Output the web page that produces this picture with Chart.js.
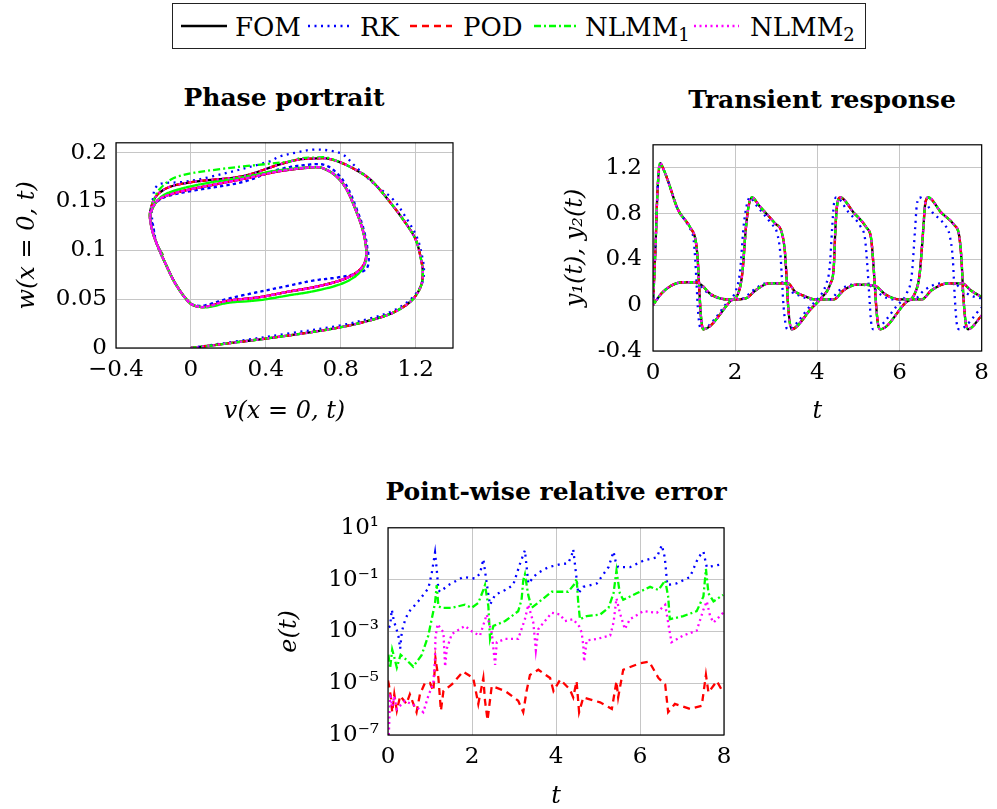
<!DOCTYPE html>
<html>
<head>
<meta charset="utf-8">
<script src="https://cdn.jsdelivr.net/npm/chart.js@4.4.0/dist/chart.umd.min.js"></script>
<style>
  body { margin: 0; background: #fff; }
  #fig { position: relative; width: 997px; height: 809px; font-family: "DejaVu Serif", serif; color: #000; overflow: hidden; }
  canvas { position: absolute; }
  .ttl { position: absolute; font-weight: bold; font-size: 25px; line-height: 1; transform: translate(-50%, -50%); white-space: nowrap; }
  #legendBox { position: absolute; left: 172px; top: 3px; width: 694px; height: 46px; border: 1.3px solid #222; box-sizing: border-box; }
  .ls { position: absolute; top: 23px; }
  .lt { position: absolute; top: 27px; transform: translateY(-50%); font-size: 26px; line-height: 1; white-space: nowrap; }
  .lt sub { font-size: 18px; vertical-align: -5px; line-height: 0; }
</style>
</head>
<body>
<div id="fig">
  <div id="legendBox"></div>
  <svg class="ls" style="left:181px" width="46" height="6"><line x1="0" y1="3" x2="46" y2="3" stroke="#000" stroke-width="2.4"/></svg>
  <span class="lt" style="left:235px">FOM</span>
  <svg class="ls" style="left:307px" width="44" height="6"><line x1="1" y1="3" x2="44" y2="3" stroke="#0000ff" stroke-width="2.4" stroke-dasharray="2 4.5"/></svg>
  <span class="lt" style="left:360px">RK</span>
  <svg class="ls" style="left:410px" width="42" height="6"><line x1="0" y1="3" x2="42" y2="3" stroke="#ff0000" stroke-width="2.4" stroke-dasharray="7 5"/></svg>
  <span class="lt" style="left:463px">POD</span>
  <svg class="ls" style="left:534px" width="44" height="6"><line x1="0" y1="3" x2="44" y2="3" stroke="#00ff00" stroke-width="2.4" stroke-dasharray="7 3 2 3"/></svg>
  <span class="lt" style="left:585px">NLMM<sub>1</sub></span>
  <svg class="ls" style="left:693px" width="46" height="6"><line x1="1" y1="3" x2="46" y2="3" stroke="#ff00ff" stroke-width="2.4" stroke-dasharray="2 3.5"/></svg>
  <span class="lt" style="left:750px">NLMM<sub>2</sub></span>

  <div class="ttl" style="left:284px; top:97px">Phase portrait</div>
  <div class="ttl" style="left:822px; top:99px">Transient response</div>
  <div class="ttl" style="left:556px; top:491px">Point-wise relative error</div>

  <canvas id="phase" width="480" height="320" style="left:0px; top:120px"></canvas>
  <canvas id="trans" width="457" height="320" style="left:540px; top:120px"></canvas>
  <canvas id="err" width="480" height="304" style="left:270px; top:505px"></canvas>
</div>

<script>
// ---- phase portrait: v(x=0,t) and w(x=0,t), outer loop then repeated inner loop
const fomOuterV = [0, 0.25, 0.528, 0.795, 0.972, 1.078, 1.15, 1.195, 1.23, 1.239,
  1.23, 1.203, 1.15, 1.061, 0.955, 0.865, 0.785, 0.723, 0.67, 0.581,
  0.475, 0.279, 0.012, -0.112, -0.174, -0.201, -0.219];
const fomOuterW = [0, 0.006, 0.013, 0.021, 0.029, 0.036, 0.044, 0.052, 0.064, 0.077,
  0.09, 0.11, 0.127, 0.15, 0.173, 0.184, 0.191, 0.194, 0.194, 0.193,
  0.188, 0.176, 0.17, 0.165, 0.158, 0.15, 0.137];
const fomInnerV = [-0.21, -0.183, -0.13, -0.077, -0.005, 0.048, 0.101, 0.19, 0.368, 0.528,
  0.652, 0.795, 0.883, 0.928, 0.937, 0.919, 0.883, 0.83, 0.776, 0.705,
  0.652, 0.475, 0.279, 0.012, -0.13, -0.183, -0.215];
const fomInnerW = [0.123, 0.107, 0.084, 0.064, 0.046, 0.042, 0.043, 0.048, 0.052, 0.058,
  0.062, 0.069, 0.077, 0.087, 0.1, 0.12, 0.14, 0.163, 0.176, 0.184,
  0.185, 0.181, 0.173, 0.163, 0.156, 0.15, 0.137];
const fomEndV = [-0.21, -0.183, -0.15];
const fomEndW = [0.123, 0.107, 0.095];

const rkOuterV = [0, 0.25, 0.528, 0.795, 0.972, 1.078, 1.15, 1.195, 1.235, 1.245,
  1.237, 1.21, 1.16, 1.08, 0.99, 0.883, 0.812, 0.741, 0.652, 0.563,
  0.475, 0.421, 0.101, -0.041, -0.165, -0.192, -0.201, -0.21];
const rkOuterW = [0, 0.007, 0.015, 0.023, 0.031, 0.038, 0.046, 0.054, 0.066, 0.079,
  0.092, 0.112, 0.13, 0.152, 0.166, 0.185, 0.198, 0.202, 0.203, 0.2,
  0.196, 0.191, 0.175, 0.17, 0.168, 0.163, 0.155, 0.14];
const rkInnerV = [-0.2, -0.183, -0.13, -0.077, -0.005, 0.048, 0.101, 0.19, 0.279, 0.528,
  0.652, 0.776, 0.883, 0.937, 0.95, 0.945, 0.925, 0.89, 0.84, 0.785,
  0.72, 0.652, 0.475, 0.279, 0.012, -0.13, -0.19, -0.215];
const rkInnerW = [0.123, 0.107, 0.084, 0.064, 0.046, 0.043, 0.045, 0.05, 0.054, 0.064,
  0.069, 0.072, 0.076, 0.081, 0.09, 0.1, 0.12, 0.14, 0.163, 0.178,
  0.187, 0.188, 0.183, 0.17, 0.161, 0.155, 0.148, 0.137];
const rkEndV = [-0.2, -0.183, -0.13];
const rkEndW = [0.123, 0.107, 0.084];

const nlmm1OuterV = [0, 0.25, 0.528, 0.795, 0.972, 1.078, 1.15, 1.195, 1.23, 1.239,
  1.23, 1.203, 1.15, 1.061, 0.955, 0.865, 0.785, 0.723, 0.67, 0.581,
  0.528, 0.155, -0.077, -0.165, -0.201, -0.219];
const nlmm1OuterW = [0, 0.006, 0.013, 0.021, 0.029, 0.036, 0.044, 0.052, 0.064, 0.077,
  0.09, 0.11, 0.127, 0.15, 0.173, 0.184, 0.191, 0.195, 0.195, 0.194,
  0.191, 0.183, 0.175, 0.163, 0.15, 0.137];
const nlmm1InnerV = [-0.21, -0.183, -0.13, -0.077, -0.005, 0.048, 0.101, 0.19, 0.368, 0.528,
  0.652, 0.795, 0.883, 0.928, 0.937, 0.919, 0.883, 0.83, 0.776, 0.705,
  0.652, 0.475, 0.279, 0.012, -0.13, -0.183, -0.215];
const nlmm1InnerW = [0.123, 0.107, 0.084, 0.064, 0.046, 0.042, 0.042, 0.046, 0.049, 0.054,
  0.058, 0.065, 0.074, 0.085, 0.099, 0.12, 0.14, 0.163, 0.176, 0.184,
  0.185, 0.182, 0.175, 0.166, 0.158, 0.15, 0.137];

// ---- transient response y1(t), y2(t)
const fomY1T = [0, 0.06, 0.11, 0.17, 0.24, 0.36, 0.6, 0.92, 1.04, 1.09, 1.12, 1.16, 1.22,
  1.87, 2.1, 2.18, 2.26, 2.33, 2.41, 2.58, 2.98, 3.13, 3.21, 3.25, 3.29, 3.37,
  3.85, 4.09, 4.32, 4.4, 4.44, 4.48, 4.56, 4.88, 5.19, 5.31, 5.37, 5.42, 5.47, 5.53,
  6.14, 6.37, 6.49, 6.58, 6.62, 6.7, 7.01, 7.33, 7.45, 7.51, 7.55, 7.61, 7.67, 8.0];
const fomY1 = [0, 0.5, 1.0, 1.24, 1.2, 1.09, 0.84, 0.67, 0.56, 0.39, 0.19, -0.07, -0.21,
  0.03, 0.13, 0.3, 0.67, 0.87, 0.94, 0.87, 0.71, 0.64, 0.47, 0.25, -0.01, -0.21,
  -0.03, 0.06, 0.19, 0.33, 0.67, 0.87, 0.94, 0.81, 0.68, 0.58, 0.33, 0.05, -0.15, -0.21,
  0.02, 0.1, 0.27, 0.67, 0.87, 0.94, 0.81, 0.7, 0.61, 0.39, 0.1, -0.15, -0.21, -0.09];
const fomY2T = [0, 0.2, 0.44, 0.72, 1.04, 1.2, 1.39, 1.63, 1.95, 2.26, 2.5, 2.82, 3.13, 3.29,
  3.45, 3.69, 3.93, 4.4, 4.64, 4.96, 5.39, 5.67, 5.99, 6.54, 6.78, 7.17, 7.53, 7.73, 7.96, 8.0];
const fomY2 = [0, 0.1, 0.17, 0.2, 0.2, 0.17, 0.1, 0.06, 0.05, 0.06, 0.13, 0.19, 0.19, 0.19,
  0.12, 0.08, 0.05, 0.05, 0.13, 0.18, 0.17, 0.09, 0.05, 0.05, 0.13, 0.19, 0.19, 0.13, 0.08, 0.075];

const rkY1T = [0, 0.06, 0.11, 0.17, 0.24, 0.36, 0.6, 0.88, 0.99, 1.03, 1.06, 1.1, 1.17,
  1.82, 2.02, 2.12, 2.2, 2.28, 2.36, 2.52, 2.88, 3.02, 3.1, 3.14, 3.18, 3.27,
  3.85, 4.0, 4.22, 4.3, 4.36, 4.4, 4.46, 4.76, 5.06, 5.16, 5.22, 5.27, 5.31, 5.37,
  5.95, 6.17, 6.3, 6.38, 6.42, 6.5, 6.8, 7.1, 7.22, 7.3, 7.34, 7.39, 7.45, 8.0];
const rkY1 = [0, 0.5, 1.0, 1.24, 1.2, 1.09, 0.84, 0.68, 0.57, 0.39, 0.19, -0.07, -0.21,
  0.03, 0.13, 0.3, 0.67, 0.87, 0.94, 0.87, 0.71, 0.63, 0.45, 0.22, -0.02, -0.21,
  0.0, 0.05, 0.19, 0.33, 0.67, 0.87, 0.94, 0.81, 0.68, 0.58, 0.33, 0.05, -0.15, -0.21,
  0.0, 0.1, 0.27, 0.67, 0.87, 0.94, 0.81, 0.7, 0.61, 0.39, 0.1, -0.15, -0.21, -0.02];
const rkY2T = [0, 0.2, 0.44, 0.72, 1.0, 1.15, 1.35, 1.6, 1.9, 2.2, 2.44, 2.76, 3.05, 3.2,
  3.36, 3.6, 3.85, 4.3, 4.54, 4.86, 5.27, 5.55, 5.85, 6.35, 6.6, 7.0, 7.33, 7.53, 7.76, 8.0];
const rkY2 = [0, 0.1, 0.17, 0.2, 0.2, 0.17, 0.1, 0.06, 0.05, 0.06, 0.13, 0.19, 0.19, 0.19,
  0.12, 0.08, 0.05, 0.05, 0.13, 0.18, 0.17, 0.09, 0.05, 0.05, 0.13, 0.19, 0.19, 0.13, 0.08, 0.06];

// ---- point-wise relative error, stored as log10(e)
const rkErrT = [0.02, 0.05, 0.09, 0.14, 0.2, 0.25, 0.29, 0.33, 0.4, 0.48, 0.72, 0.96, 1.04, 1.12, 1.16, 1.2,
  1.24, 1.44, 1.79, 2.07, 2.19, 2.27, 2.33, 2.39, 2.43, 2.55, 2.79, 2.98, 3.14, 3.26, 3.3, 3.34,
  3.54, 3.82, 4.13, 4.29, 4.37, 4.41, 4.49, 4.53, 4.65, 4.97, 5.25, 5.37, 5.42, 5.48, 5.76, 6.08,
  6.4, 6.52, 6.59, 6.65, 6.87, 7.19, 7.39, 7.51, 7.59, 7.98];
const rkErrLog = [-2.85, -2.79, -2.16, -2.6, -2.9, -3.2, -3.67, -3.0, -2.6, -2.28, -1.84, -1.34, -0.77, 0.04, -0.6, -1.4,
  -1.47, -1.21, -0.9, -0.96, -0.77, -0.21, -0.9, -1.59, -1.97, -1.59, -1.4, -1.21, -0.4, 0.13, -0.5, -1.15,
  -0.77, -0.52, -0.4, -0.37, -0.08, 0.17, -0.96, -1.53, -1.28, -1.15, -0.52, 0.08, -0.3, -0.52, -0.52, -0.27,
  -0.14, 0.33, -0.14, -1.21, -1.15, -0.9, -0.14, 0.08, -0.52, -0.4];

const podErrT = [0.0, 0.02, 0.07, 0.1, 0.15, 0.21, 0.29, 0.44, 0.52, 0.68, 0.76, 0.88, 1.0, 1.08, 1.13, 1.2,
  1.26, 1.32, 1.52, 1.79, 2.03, 2.15, 2.27, 2.31, 2.37, 2.47, 2.79, 3.1, 3.22, 3.3, 3.38, 3.58,
  3.86, 3.94, 4.1, 4.33, 4.41, 4.49, 4.55, 4.65, 5.05, 5.33, 5.44, 5.48, 5.6, 6.0, 6.22, 6.44,
  6.6, 6.67, 6.83, 7.19, 7.47, 7.57, 7.63, 7.83, 7.98];
const podErrLog = [-4.9, -5.05, -5.55, -6.12, -5.43, -6.06, -5.49, -5.8, -5.43, -6.12, -5.43, -4.99, -4.99, -5.3, -4.04, -4.8,
  -6.06, -5.3, -5.05, -4.55, -4.8, -5.8, -4.8, -5.68, -6.43, -5.11, -5.3, -5.68, -6.12, -5.3, -4.68, -4.48,
  -4.8, -5.3, -4.86, -5.24, -5.55, -4.92, -6.12, -5.55, -5.74, -5.99, -4.92, -5.55, -4.48, -4.23, -4.17, -4.8,
  -5.05, -6.12, -5.8, -5.99, -5.87, -4.68, -5.36, -4.92, -5.36];

const nlmm1ErrT = [0.01, 0.05, 0.1, 0.15, 0.21, 0.3, 0.4, 0.6, 0.8, 0.96, 1.12, 1.16, 1.2, 1.28, 1.52, 1.83,
  1.99, 2.15, 2.27, 2.31, 2.39, 2.43, 2.51, 2.79, 3.1, 3.18, 3.22, 3.26, 3.34, 3.42, 3.66, 3.9,
  4.1, 4.29, 4.45, 4.49, 4.53, 4.57, 4.73, 5.05, 5.25, 5.37, 5.44, 5.52, 5.6, 5.92, 6.24, 6.44,
  6.6, 6.67, 6.71, 7.03, 7.35, 7.51, 7.57, 7.63, 7.75, 7.98];
const nlmm1ErrLog = [-3.9, -4.42, -3.7, -4.0, -4.4, -3.9, -4.04, -4.36, -3.92, -3.16, -1.9, -1.21, -2.03, -2.09, -2.09, -1.97,
  -2.09, -1.9, -1.4, -1.21, -2.03, -3.29, -2.79, -2.6, -2.22, -1.78, -1.03, -0.8, -1.6, -2.09, -1.78, -1.47,
  -1.47, -1.47, -1.15, -0.96, -1.9, -2.53, -2.41, -2.35, -2.09, -1.53, -0.65, -1.53, -1.78, -1.53, -1.28, -1.4,
  -1.03, -1.65, -2.53, -2.41, -2.22, -1.65, -0.59, -1.53, -1.84, -1.59];

const nlmm2ErrT = [0.02, 0.05, 0.1, 0.15, 0.21, 0.4, 0.64, 0.84, 0.96, 1.08, 1.12, 1.13, 1.18, 1.32, 1.36, 1.4,
  1.52, 1.83, 2.03, 2.19, 2.35, 2.47, 2.55, 2.59, 2.79, 3.1, 3.26, 3.34, 3.46, 3.52, 3.58, 3.9,
  4.1, 4.21, 4.41, 4.55, 4.61, 4.65, 4.67, 4.73, 4.97, 5.29, 5.37, 5.44, 5.52, 5.64, 5.76, 6.08,
  6.4, 6.6, 6.67, 6.75, 7.03, 7.35, 7.51, 7.59, 7.67, 7.75, 7.98];
const nlmm2ErrLog = [-7.0, -5.4, -5.9, -5.5, -6.0, -5.68, -5.87, -6.12, -5.49, -4.99, -4.04, -3.23, -2.72, -3.04, -4.36, -3.67,
  -3.1, -2.79, -3.04, -3.16, -2.35, -3.04, -4.29, -3.42, -3.29, -3.29, -2.53, -1.97, -2.66, -3.73, -2.91, -2.28,
  -2.35, -2.6, -2.53, -2.8, -3.04, -3.54, -4.17, -3.35, -3.29, -3.16, -2.66, -1.72, -2.28, -2.91, -2.53, -2.22,
  -2.28, -1.97, -2.66, -3.42, -3.16, -2.97, -2.16, -1.84, -2.41, -2.66, -2.28];

const errTicks = [1e-7, 1e-5, 1e-3, 1e-1, 1e1];

// ---- helpers
const pairs = (xs, ys) => xs.map((x, i) => ({ x: x, y: ys[i] }));
const logPairs = (xs, ls) => xs.map((x, i) => ({ x: x, y: Math.pow(10, ls[i]) }));

Chart.defaults.font.family = '"DejaVu Serif", serif';
Chart.defaults.color = '#000';

const styles = {
  FOM:   { borderColor: '#000000', borderDash: [],           order: 5 },
  RK:    { borderColor: '#0000ff', borderDash: [2, 4.5],     order: 4 },
  POD:   { borderColor: '#ff0000', borderDash: [7, 5],       order: 3 },
  NLMM1: { borderColor: '#00ff00', borderDash: [7, 3, 2, 3], order: 2 },
  NLMM2: { borderColor: '#ff00ff', borderDash: [2, 3.5],     order: 1 }
};

function ds(key, data, extra) {
  return Object.assign({ label: key, data: data, showLine: true, pointRadius: 0, borderWidth: 2.3, fill: false },
    styles[key], extra || {});
}

const frame = {
  id: 'frame',
  afterDraw(chart) {
    const { ctx, chartArea: a } = chart;
    ctx.save();
    ctx.strokeStyle = '#000';
    ctx.lineWidth = 1.2;
    ctx.strokeRect(a.left, a.top, a.right - a.left, a.bottom - a.top);
    ctx.restore();
  }
};

const gridStyle = { color: '#c6c6c6', lineWidth: 1, drawTicks: false };
const tickFont = { size: 23 };
const titleFont = { size: 24, style: 'italic', lineHeight: 1 };

function xAxis(min, max, step, title, height, padBottom, cb) {
  return {
    type: 'linear', min: min, max: max,
    grid: gridStyle, border: { display: false },
    ticks: { stepSize: step, includeBounds: false, autoSkip: false, maxRotation: 0, padding: 8, font: tickFont,
      callback: cb || (v => String(Number(v.toFixed(2)))) },
    title: { display: true, text: title, font: titleFont, padding: { top: 0, bottom: padBottom } },
    afterFit: s => { s.height = height; }
  };
}

function yAxis(title, width, padTop, extra) {
  return Object.assign({
    grid: gridStyle, border: { display: false },
    title: { display: true, text: title, font: titleFont, padding: { top: padTop, bottom: 0 } },
    afterFit: s => { s.width = width; }
  }, extra);
}

const common = {
  responsive: false, devicePixelRatio: 1, animation: false,
  plugins: { legend: { display: false }, tooltip: { enabled: false } }
};

// ---- phase portrait
const fomV = [...fomOuterV, ...fomInnerV, ...fomInnerV, ...fomInnerV, ...fomEndV];
const fomW = [...fomOuterW, ...fomInnerW, ...fomInnerW, ...fomInnerW, ...fomEndW];
const rkV = [...rkOuterV, ...rkInnerV, ...rkInnerV, ...rkInnerV, ...rkEndV];
const rkW = [...rkOuterW, ...rkInnerW, ...rkInnerW, ...rkInnerW, ...rkEndW];
const nlmm1V = [...nlmm1OuterV, ...nlmm1InnerV, ...nlmm1InnerV, ...nlmm1InnerV, ...fomEndV];
const nlmm1W = [...nlmm1OuterW, ...nlmm1InnerW, ...nlmm1InnerW, ...nlmm1InnerW, ...fomEndW];

const smooth = { tension: 0.35 };
new Chart(document.getElementById('phase'), {
  type: 'scatter',
  data: { datasets: [
    ds('FOM', pairs(fomV, fomW), smooth),
    ds('RK', pairs(rkV, rkW), smooth),
    ds('POD', pairs(fomV, fomW), smooth),
    ds('NLMM1', pairs(nlmm1V, nlmm1W), smooth),
    ds('NLMM2', pairs(fomV, fomW), smooth)
  ] },
  options: Object.assign({}, common, {
    layout: { padding: { top: 16, right: 27, left: 0, bottom: 0 } },
    scales: {
      x: xAxis(-0.4, 1.4, 0.4, 'v(x = 0, t)', 92, 16,
        v => { const n = Number(v.toFixed(2)); return n < 0 ? '\u2212' + Math.abs(n) : String(n); }),
      y: yAxis('w(x = 0, t)', 116, 16, { type: 'linear', min: 0, max: 0.21,
        ticks: { stepSize: 0.05, includeBounds: false, autoSkip: false, padding: 9, font: tickFont,
          callback: v => String(Number(v.toFixed(2))) } })
    }
  }),
  plugins: [frame]
});

// ---- transient response
const mono = { cubicInterpolationMode: 'monotone' };
const trSets = [];
[['FOM', fomY1T, fomY1, fomY2T, fomY2], ['RK', rkY1T, rkY1, rkY2T, rkY2], ['POD', fomY1T, fomY1, fomY2T, fomY2],
 ['NLMM1', fomY1T, fomY1, fomY2T, fomY2], ['NLMM2', fomY1T, fomY1, fomY2T, fomY2]].forEach(r => {
  trSets.push(ds(r[0], pairs(r[1], r[2]), mono));
  trSets.push(ds(r[0], pairs(r[3], r[4]), mono));
});
new Chart(document.getElementById('trans'), {
  type: 'scatter',
  data: { datasets: trSets },
  options: Object.assign({}, common, {
    layout: { padding: { top: 18, right: 7, left: 0, bottom: 0 } },
    scales: {
      x: xAxis(0, 8, 2, 't', 89, 16),
      y: yAxis('y\u2081(t), y\u2082(t)', 113, 24, { type: 'linear', min: -0.4, max: 1.4,
        ticks: { stepSize: 0.4, includeBounds: false, autoSkip: false, padding: 11, font: tickFont,
          callback: v => String(Number(v.toFixed(2))) } })
    }
  }),
  plugins: [frame]
});

// ---- point-wise relative error
const sup = { '-': '\u207B', '0': '\u2070', '1': '\u00B9', '2': '\u00B2', '3': '\u00B3', '4': '\u2074',
  '5': '\u2075', '6': '\u2076', '7': '\u2077', '8': '\u2078', '9': '\u2079' };
new Chart(document.getElementById('err'), {
  type: 'scatter',
  data: { datasets: [
    ds('RK', logPairs(rkErrT, rkErrLog)),
    ds('POD', logPairs(podErrT, podErrLog)),
    ds('NLMM1', logPairs(nlmm1ErrT, nlmm1ErrLog)),
    ds('NLMM2', logPairs(nlmm2ErrT, nlmm2ErrLog))
  ] },
  options: Object.assign({}, common, {
    layout: { padding: { top: 18, right: 26, left: 0, bottom: 0 } },
    scales: {
      x: xAxis(0, 8, 2, 't', 74, 0),
      y: yAxis('e(t)', 118, 8, { type: 'logarithmic', min: 1e-7, max: 1e1,
        afterBuildTicks: s => { s.ticks = errTicks.map(v => ({ value: v })); },
        ticks: { autoSkip: false, padding: 9, font: tickFont,
          callback: v => '10' + String(Math.round(Math.log10(v))).split('').map(c => sup[c]).join('') } })
    }
  }),
  plugins: [frame]
});
</script>
</body>
</html>
